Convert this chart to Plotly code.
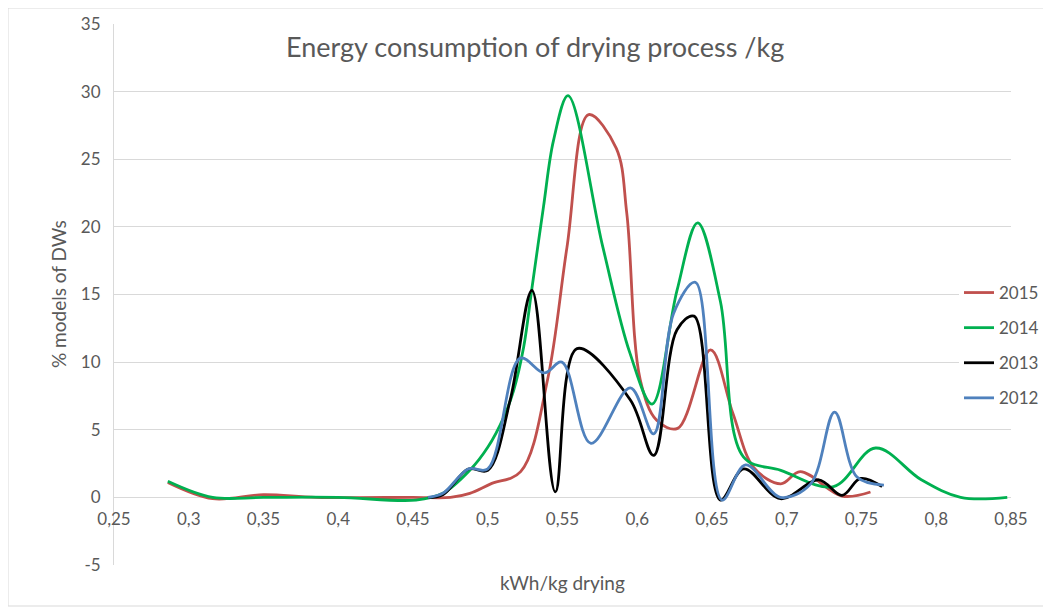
import plotly.graph_objects as go

# ---------------- data ----------------
x_2015 = [0.286, 0.316, 0.35, 0.385, 0.45, 0.475, 0.488, 0.502, 0.522, 0.54, 0.553, 0.5675,
          0.586, 0.593, 0.602, 0.613, 0.627, 0.649, 0.664, 0.678, 0.696, 0.709, 0.737, 0.756]
y_2015 = [1.1, -0.1, 0.2, 0.0, 0.0, 0.0, 0.3, 1.0, 1.9, 8.7, 18.5, 28.3,
          25.8, 21.0, 8.7, 5.7, 5.1, 10.9, 6.2, 2.2, 1.0, 1.9, 0.1, 0.4]

x_2014 = [0.286, 0.316, 0.35, 0.40, 0.452, 0.47, 0.488, 0.50, 0.5106, 0.5173, 0.524, 0.5296,
          0.5373, 0.544, 0.5537, 0.577, 0.595, 0.6099, 0.6266, 0.6404, 0.6556, 0.671, 0.696,
          0.7313, 0.7594, 0.79, 0.8163, 0.8475]
y_2014 = [1.2, 0.0, 0.0, 0.0, -0.2, 0.3, 2.0, 3.7, 5.9, 7.9, 11.1, 15.5,
          21.5, 26.4, 29.7, 18.5, 10.7, 6.9, 15.3, 20.3, 14.5, 3.0, 2.0,
          0.8, 3.65, 1.3, 0.0, 0.0]

x_2013 = [0.46, 0.47, 0.487, 0.50, 0.515, 0.5296, 0.5452, 0.5597, 0.5954, 0.611, 0.6266,
          0.638, 0.6556, 0.6712, 0.6958, 0.7214, 0.737, 0.7493, 0.7638]
y_2013 = [0.0, 0.2, 2.1, 2.0, 7.2, 15.3, 0.4, 11.0, 7.2, 3.1, 12.4,
          13.4, -0.2, 2.1, -0.1, 1.3, 0.15, 1.4, 0.8]

x_2012 = [0.46, 0.47, 0.487, 0.50, 0.5218, 0.5378, 0.5496, 0.569, 0.5954, 0.611, 0.6243,
          0.6389, 0.6567, 0.6724, 0.6958, 0.716, 0.732, 0.747, 0.765]
y_2012 = [0.0, 0.3, 2.1, 2.1, 10.3, 9.2, 10.0, 4.0, 8.1, 4.7, 13.6,
          15.9, -0.2, 2.4, 0.0, 1.0, 6.3, 1.5, 0.9]

series_names = ["2015", "2014", "2013", "2012"]
series_colors = ["#C0504D", "#00B050", "#000000", "#4F81BD"]

x_tickvals = [0.25, 0.3, 0.35, 0.4, 0.45, 0.5, 0.55, 0.6, 0.65, 0.7, 0.75, 0.8, 0.85]
x_ticktext = ["0,25", "0,3", "0,35", "0,4", "0,45", "0,5", "0,55", "0,6", "0,65",
              "0,7", "0,75", "0,8", "0,85"]
y_tickvals = [-5, 0, 5, 10, 15, 20, 25, 30, 35]
y_ticktext = ["-5", "0", "5", "10", "15", "20", "25", "30", "35"]

title_text = "Energy consumption of drying process /kg"
x_title = "kWh/kg drying"
y_title = "% models of DWs"

# ---------------- layout geometry ----------------
# the page puts the figure 8px in from the top-left corner of the window
OFF = 8
W, H = 1051 - OFF, 614 - OFF
L, R, T, B = 114 - OFF, 1011 - OFF, 24 - OFF, 565 - OFF
FONT = "Lato, 'Open Sans', sans-serif"
GRAY = "#595959"


def pxx(p):  # screen x pixel -> paper fraction
    return (p - OFF - L) / (R - L)


def pxy(p):  # screen y pixel -> paper fraction
    return (B - (p - OFF)) / (B - T)


fig = go.Figure()
data = [(x_2015, y_2015), (x_2014, y_2014), (x_2013, y_2013), (x_2012, y_2012)]
for (xs, ys), name, col in zip(data, series_names, series_colors):
    fig.add_trace(go.Scatter(
        x=xs, y=ys, mode="lines", name=name, legendgroup=name,
        line=dict(color=col, width=2.8, shape="spline", smoothing=1.0),
    ))

fig.update_layout(
    width=W, height=H,
    margin=dict(l=L, r=W - R, t=T, b=H - B, autoexpand=False),
    paper_bgcolor="white", plot_bgcolor="white",
    font=dict(family=FONT, color=GRAY, size=17),
    showlegend=True,
    legend=dict(
        x=pxx(959), y=pxy(275), xanchor="left", yanchor="top",
        bgcolor="white", borderwidth=0,
        font=dict(family=FONT, size=17, color=GRAY),
        traceorder="grouped", tracegroupgap=10,
    ),
    xaxis=dict(
        range=[0.25, 0.85], tickvals=x_tickvals, ticktext=x_ticktext,
        showgrid=False, zeroline=False, showline=False,
        anchor="free", position=pxy(497),
        ticks="outside", ticklen=7, tickcolor="rgba(0,0,0,0)",
        tickfont=dict(family=FONT, size=17, color=GRAY),
    ),
    yaxis=dict(
        range=[-5, 35], tickvals=y_tickvals, ticktext=y_ticktext,
        showgrid=True, gridcolor="#D9D9D9", gridwidth=1,
        zeroline=False, showline=True, linecolor="#D9D9D9", linewidth=1,
        ticks="outside", ticklen=9, tickcolor="rgba(0,0,0,0)",
        tickfont=dict(family=FONT, size=17, color=GRAY),
    ),
    shapes=[dict(
        type="rect", xref="paper", yref="paper",
        x0=pxx(8), x1=pxx(1045), y0=pxy(8), y1=pxy(606),
        line=dict(color="#D9D9D9", width=1), fillcolor="rgba(0,0,0,0)", layer="below",
    )],
    annotations=[
        dict(text=title_text, xref="paper", yref="paper", x=pxx(535), y=pxy(47),
             xanchor="center", yanchor="middle", showarrow=False,
             font=dict(family=FONT, size=27, color=GRAY)),
        dict(text=x_title, xref="paper", yref="paper", x=pxx(562), y=pxy(582),
             xanchor="center", yanchor="middle", showarrow=False,
             font=dict(family=FONT, size=19, color=GRAY)),
        dict(text=y_title, xref="paper", yref="paper", x=pxx(58), y=pxy(294),
             xanchor="center", yanchor="middle", showarrow=False, textangle=-90,
             font=dict(family=FONT, size=19, color=GRAY)),
    ],
)

fig.write_html("out.html")
